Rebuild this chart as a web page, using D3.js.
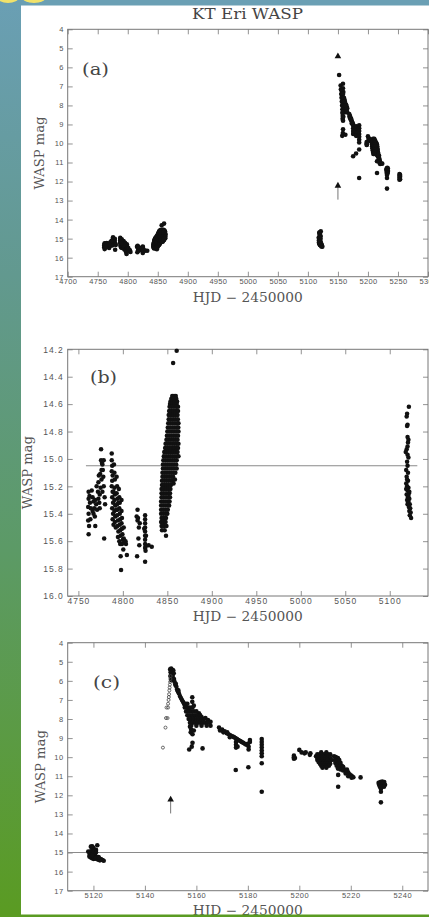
<!DOCTYPE html>
<html><head><meta charset="utf-8">
<script src="https://cdn.jsdelivr.net/npm/d3@7"></script>
<style>html,body{margin:0;padding:0;background:#fff;}svg{display:block}</style>
</head><body>
<svg id="chart" width="429" height="917"></svg>
<script>
// ---------------- DATA (HJD - 2450000, WASP mag) ----------------
const quietCluster1 = [[4761.5,15.24],[4761.5,15.29],[4761,15.35],[4761.5,15.40],[4761,15.45],[4762,15.49],[4761.5,15.55],[4762.5,15.27],[4763,15.32],
 [4765,15.23],[4766,15.28],[4767,15.31],[4768,15.36],[4768.5,15.42],[4769,15.49],[4767,15.40],[4766,15.38],
 [4770.5,15.20],[4772,15.24],[4772.5,15.29],[4773.5,15.32],[4772.5,15.17],[4771,15.37],[4770,15.33],[4774,15.26],
 [4774.5,15.11],[4775.5,14.93],[4775.5,15.01],[4776.5,15.03],[4776,15.08],[4777.5,15.08],[4778,15.13],[4778.5,15.20],[4779.5,15.28],
 [4779,15.58],[4777,15.04],[4778.5,15.01],[4776,15.15],[4775,15.21],[4777,15.24],[4780,15.33],[4773,15.12],[4774,15.36],[4769,15.30],[4764,15.36],[4763.5,15.44]];
const quietCluster2 = [[4787.5,14.96],[4787.5,15.01],[4788,15.05],[4787.5,15.09],[4788.5,15.12],[4788,15.16],[4787.5,15.20],[4788.5,15.24],[4788,15.28],[4789,15.32],[4788,15.36],[4789,15.40],[4788.5,15.44],[4789.5,15.48],
 [4790,15.04],[4790.5,15.10],[4791,15.15],[4790.5,15.21],[4791,15.26],[4790.5,15.30],[4791.5,15.34],[4790.5,15.38],[4791.5,15.42],[4791,15.46],[4792,15.50],
 [4793,15.13],[4793.5,15.20],[4793,15.25],[4794,15.29],[4793.5,15.33],[4794,15.37],[4793.5,15.41],[4794.5,15.45],[4794,15.49],[4795,15.53],[4794.5,15.57],
 [4795.5,15.22],[4796,15.28],[4796.5,15.32],[4796,15.36],[4796.5,15.40],[4797,15.44],[4796.5,15.48],[4797,15.52],[4797.5,15.56],[4796,15.60],[4797,15.62],
 [4798.5,15.30],[4798.5,15.38],[4799,15.43],[4798.5,15.47],[4799,15.51],[4799.5,15.55],[4800,15.59],[4799,15.62],
 [4801,15.58],[4802,15.60],[4803.5,15.62],[4801,15.50],[4797.5,15.71],[4798,15.81],[4804.5,15.70],[4803,15.60],[4800.5,15.66],[4795,15.32],[4792.5,15.37],[4789.5,15.24]];
const quietCluster3 = [[4815.5,15.42],[4816.5,15.37],[4816.5,15.45],[4817,15.43],[4818,15.50],[4817.5,15.58],[4816,15.71],[4818.5,15.63],[4819,15.47],
 [4825,15.41],[4825,15.44],[4825,15.47],[4825,15.50],[4825,15.53],[4825,15.56],[4825,15.59],[4825,15.62],[4825,15.65],[4825.5,15.67],[4825,15.75],
 [4824,15.51],[4826,15.56],[4825.5,15.64],[4829,15.63],[4832.5,15.64]];
// dense rise before the eruption: [mag, [HJD values]]
const quietBandRows = [
 [14.54,[4855.5,4857.5,4859.5]],[14.56,[4854.5,4857,4860]],[14.58,[4853.5,4856,4858.5,4861]],[14.60,[4853,4855.5,4858,4860.5]],
 [14.62,[4852.5,4855,4857.5,4860,4862]],[14.65,[4852,4854.5,4857,4859.5,4862]],[14.68,[4851.5,4854,4856.5,4859,4861.5]],
 [14.71,[4851.5,4854,4856.5,4859,4861.8]],[14.74,[4851,4853.5,4856,4858.5,4861,4862.5]],[14.77,[4850.5,4853,4855.5,4858,4860.5,4862.3]],
 [14.80,[4850,4852.5,4855,4857.5,4860,4862.5]],[14.83,[4849.5,4852,4854.5,4857,4859.5,4862]],[14.86,[4849,4851.5,4854,4856.5,4859,4861.5]],
 [14.89,[4848,4850.5,4853,4855.5,4858,4860.5,4862.5]],[14.92,[4847.5,4850,4852.5,4855,4857.5,4860,4862]],
 [14.95,[4846.5,4849,4851.5,4854,4856.5,4859,4861.5]],[14.98,[4846,4848.5,4851,4853.5,4856,4858.5,4861,4862.5]],
 [15.01,[4845.5,4848,4850.5,4853,4855.5,4858,4860.5]],[15.04,[4845,4847.5,4850,4852.5,4855,4857.5,4860]],
 [15.07,[4845,4847.5,4850,4852.5,4855,4857.5,4860.5]],[15.10,[4844.5,4847,4849.5,4852,4854.5,4857,4859]],
 [15.13,[4844.5,4847,4849.5,4852,4854.5,4856.5]],[15.16,[4844,4846.5,4849,4851.5,4854,4856]],[15.19,[4844,4846.5,4849,4851.5,4854]],
 [15.22,[4843.5,4846,4848.5,4851,4853.5]],[15.25,[4843.5,4846,4848.5,4851,4853]],[15.28,[4843.5,4846,4848.5,4851,4853]],
 [15.31,[4843,4845.5,4848,4850.5,4852.5]],[15.34,[4843,4845.5,4848,4850.5,4852]],[15.37,[4843,4845.5,4848,4850.5]],
 [15.40,[4843,4845.5,4848,4850]],[15.43,[4843.5,4846,4848.5]],[15.46,[4843,4845.5,4848]],[15.49,[4843.5,4846,4849]],
 [15.52,[4844,4847]],[15.56,[4848.5]]];
const quietOutliers = [[4856.5,14.30],[4860.5,14.21],[4858.5,15.15],[4857,15.18]];
const preEruption = [[5121.5,14.62],[5119.5,14.67],[5119,14.69],[5120,14.75],[5119.5,14.76],[5120,14.84],[5121,14.86],[5120.5,14.88],[5120,14.91],
 [5119,14.93],[5118,14.95],[5120,14.97],[5121,14.99],[5119.5,15.02],[5120,15.05],[5118.5,15.08],[5120.5,15.10],[5119,15.13],[5120.5,15.16],
 [5118.5,15.18],[5119.5,15.20],[5121,15.21],[5120,15.23],[5121.5,15.25],[5119,15.26],[5120.5,15.28],[5122,15.29],[5119.5,15.30],[5121,15.31],
 [5122.5,15.33],[5120,15.33],[5121.5,15.35],[5123,15.36],[5122,15.38],[5120.5,15.32],[5123.5,15.39],[5122.5,15.41],[5124,15.43],
 [5121,15.27],[5122,15.24],[5118.5,15.22],[5119.5,15.15]];
// eruption peak, resolved in panel (c)
const burstPeak = [[5149.8,5.40],[5150.2,5.35],[5150.6,5.42],[5151,5.45],[5150,5.55],[5150.5,5.6],[5151.2,5.6],[5149.9,5.75],[5150.4,5.8],
 [5150.8,5.75],[5150.2,5.95],[5150.7,5.95],[5151.3,5.9],
 [5151.5,6.05],[5151.8,6.2],[5152.2,6.3],[5152.5,6.45],[5152.8,6.55],[5153.2,6.65],[5153.6,6.8],[5154,6.9],[5154.4,7.0],[5154.8,7.1],
 [5155.2,7.2],[5155.6,7.3],[5152,6.15],[5153,6.5]];
// the same peak as it appears in panel (a)
const burstPeakA = [[5152,6.4],[5154.5,6.95],[5155,7.15]];
const burstEarly = [[5158.4,6.86],[5158.4,7.1],[5159,7.3],[5157,7.5],[5161,7.7],[5162,7.9],[5163.5,7.95],[5164.5,8.05],[5165.5,8.15],
 [5157.5,8.4],[5158,8.55],[5157.8,8.7],[5158.5,8.8],[5159,8.6],[5157.2,9.6],[5158.5,9.25],[5158.2,9.45],[5162.4,9.54]];
const burstEarlyRows = [
 [7.2,[5155.8,5156.5]],[7.4,[5155.5,5156.5,5157.5,5158.5]],[7.6,[5156,5157,5158,5159,5160]],
 [7.8,[5156.5,5157.5,5158.5,5159.5,5160.5,5161.5]],[8.0,[5157,5158,5159,5160,5161,5162,5163]],
 [8.2,[5157.5,5158.5,5159.5,5160.5,5161.5,5162.5,5163.5,5164.5]],[8.35,[5158,5160,5162,5164,5165.5]]];
const burstMid = [[5168.8,8.45],[5169.2,8.6],[5170,8.55],[5170.5,8.7],[5171,8.65],[5171.8,8.75],[5172.5,8.8],[5173.2,8.85],[5174,8.9],
 [5174.6,8.95],[5175.2,9.0],[5175.8,9.05],[5176.4,9.1],[5177,9.15],[5177.6,9.2],[5178.2,9.25],[5178.8,9.3],[5179.4,9.35],[5180,9.3],
 [5175.4,9.2],[5175.4,9.35],[5175.4,9.5],[5176,9.45],[5180.3,9.45],[5180.3,9.6],[5180.8,9.2],[5180.8,9.1],[5175.3,10.67],[5180.2,10.53],
 [5172,8.7],[5173,8.95],
 [5185.4,9.05],[5185.4,9.2],[5185.4,9.35],[5185.4,9.5],[5185.4,9.65],[5185.4,9.8],[5185.4,9.95],[5185.4,10.32],[5185.4,11.81]];
const burstLate = [[5197.9,9.92],[5197.9,10.0],[5197.9,10.08],[5198.3,10.05],[5200,9.62],[5200.9,9.75],[5202,9.8],[5202.5,9.75],[5204.1,9.88],[5204.3,9.8],
 [5213.5,9.95],[5214.2,10.0],[5215,10.05],[5213.8,10.15],[5214.6,10.2],[5215.4,10.25],[5214,10.3],[5215,10.35],[5215.8,10.4],[5216.5,10.45],
 [5214.5,10.45],[5215.5,10.5],[5216.5,10.55],[5217.2,10.6],[5215,10.6],[5216,10.65],[5217,10.7],[5218,10.75],[5218.5,10.65],[5219,10.8],
 [5218,10.85],[5219.5,10.9],[5220,10.95],[5220.5,11.0],[5221,11.05],[5219,11.0],[5220.3,11.08],[5215.5,10.15],[5216,10.3],[5217,10.5],
 [5215.1,10.93],[5215.1,11.55],[5223.8,11.06],
 [5230.8,11.35],[5231.5,11.3],[5232.2,11.28],[5233,11.3],[5231,11.45],[5231.8,11.42],[5232.6,11.4],[5233.3,11.45],[5231.3,11.55],
 [5232.1,11.55],[5232.9,11.55],[5231.7,11.65],[5231.7,11.81],[5231.7,12.37],
 [5252.5,11.6],[5252.5,11.7],[5252.5,11.8],[5253.5,11.65],[5253.5,11.75],[5253.5,11.88],[5252.5,11.9]];
const burstLateRows = [
 [9.75,[5208.5,5210.5]],[9.85,[5207,5208,5209,5210,5211,5212]],[9.95,[5206.5,5207.5,5208.5,5209.5,5210.5,5211.5]],
 [10.05,[5207,5208,5209,5210,5211,5212]],[10.15,[5207,5208,5209,5210,5211,5212.5]],[10.25,[5207.5,5208.5,5209.5,5210.5,5211.5]],
 [10.35,[5208,5209,5210,5211,5212]],[10.45,[5208.5,5209.5,5210.5,5211.5]],[10.55,[5209,5210.5]]];
const openPoints = [[5147.0,9.5],[5148.0,8.45],[5148.2,7.95],[5148.8,7.95],[5148.4,7.4],[5149.0,7.4],[5149.0,7.2],[5149.2,7.0],
 [5149.3,6.85],[5149.4,6.7],[5149.5,6.5],[5149.6,6.35],[5149.7,6.2],[5149.8,6.05],[5149.9,5.9],[5150.0,5.75]];
const peakMarker = [[5150,5.4]];
const arrowMarker = [[5150,12.2,12.95]];
const meanLineB = [[4758.5,15.05],[5131,15.05]];
const meanLineC = [[5110,15.0],[5250,15.0]];

const xTicksA = [4700,4750,4800,4850,4900,4950,5000,5050,5100,5150,5200,5250,5300];
const yTicksA = [4,5,6,7,8,9,10,11,12,13,14,15,16,17];
const xTicksB = [4750,4800,4850,4900,4950,5000,5050,5100];
const yTicksB = [14.2,14.4,14.6,14.8,15.0,15.2,15.4,15.6,15.8,16.0];
const xTicksC = [5120,5140,5160,5180,5200,5220,5240];
const yTicksC = yTicksA;

const rowsToPoints = rows => rows.flatMap(([m, hs]) => hs.map(h => [h, m]));
const quietAll = [...quietCluster1, ...quietCluster2, ...quietCluster3, ...rowsToPoints(quietBandRows), ...quietOutliers];
const burstRest = [...burstEarly, ...rowsToPoints(burstEarlyRows), ...burstMid, ...burstLate, ...rowsToPoints(burstLateRows)];

// ---------------- DRAWING ----------------
const svg = d3.select("#chart");
const W = 429, H = 917;
const defs = svg.append("defs");
const grad = defs.append("linearGradient").attr("id","side").attr("x1",0).attr("y1",0).attr("x2",0).attr("y2",1);
[[0,"#6a9fb4"],[0.3,"#62998f"],[0.6,"#5c9a66"],[1,"#5a9b22"]].forEach(([o,c]) => grad.append("stop").attr("offset",o).attr("stop-color",c));

svg.append("rect").attr("width",W).attr("height",H).attr("fill","#fff");
svg.append("rect").attr("x",0).attr("y",0).attr("width",W).attr("height",5.5).attr("fill","#6a9fb4");
svg.append("rect").attr("x",0).attr("y",0).attr("width",21).attr("height",H).attr("fill","url(#side)");
svg.append("ellipse").attr("cx",8).attr("cy",-3).attr("rx",11).attr("ry",6).attr("fill","#f1e26a");
svg.append("ellipse").attr("cx",34).attr("cy",-3).attr("rx",12).attr("ry",6).attr("fill","#f1e26a");

const tickFont = "'Liberation Sans', Arial, sans-serif";
const serif = "'DejaVu Serif', 'Liberation Serif', serif";
const grey = "#555";

svg.append("text").attr("x",247.5).attr("y",19).attr("text-anchor","middle")
  .attr("font-family",serif).attr("font-size",14.5).attr("fill","#444")
  .attr("textLength",111).attr("lengthAdjust","spacingAndGlyphs").text("KT Eri WASP");

function panel(cfg){
  const x = d3.scaleLinear().domain(cfg.xd).range([cfg.left, cfg.right]);
  const y = d3.scaleLinear().domain(cfg.yd).range([cfg.top, cfg.bottom]);
  const g = svg.append("g");
  const clipId = "clip"+cfg.id;
  defs.append("clipPath").attr("id",clipId).append("rect")
    .attr("x",cfg.left).attr("y",cfg.top-1).attr("width",cfg.right-cfg.left).attr("height",cfg.bottom-cfg.top+1);

  const styleAxis = (sel, labels) => {
    sel.select(".domain").remove();
    sel.selectAll(".tick line").attr("stroke","#777").attr("stroke-width",0.8);
    sel.selectAll(".tick text").attr("fill",grey).attr("font-family",tickFont).attr("font-size",cfg.fs)
      .attr("letter-spacing",cfg.ls);
    if(!labels) sel.selectAll(".tick text").remove();
  };
  g.append("g").attr("transform",`translate(0,${cfg.bottom})`)
    .call(d3.axisBottom(x).tickValues(cfg.xt).tickSize(-5).tickPadding(cfg.xpad).tickFormat(d3.format("d")))
    .call(s=>styleAxis(s,true));
  g.append("g").attr("transform",`translate(0,${cfg.top})`)
    .call(d3.axisTop(x).tickValues(cfg.xt).tickSize(-5)).call(s=>styleAxis(s,false));
  g.append("g").attr("transform",`translate(${cfg.left},0)`)
    .call(d3.axisLeft(y).tickValues(cfg.yt).tickSize(-5).tickPadding(4).tickFormat(cfg.yfmt))
    .call(s=>styleAxis(s,true));
  g.append("g").attr("transform",`translate(${cfg.right},0)`)
    .call(d3.axisRight(y).tickValues(cfg.yt).tickSize(-5)).call(s=>styleAxis(s,false));
  g.append("rect").attr("x",cfg.left).attr("y",cfg.top).attr("width",cfg.right-cfg.left).attr("height",cfg.bottom-cfg.top)
    .attr("fill","none").attr("stroke","#777").attr("stroke-width",1);

  const plot = g.append("g").attr("clip-path",`url(#${clipId})`);
  if(cfg.line){
    plot.append("path").attr("d", d3.line().x(d=>x(d[0])).y(d=>y(d[1]))(cfg.line))
      .attr("stroke","#8a8a8a").attr("stroke-width",1.1).attr("fill","none");
  }
  plot.selectAll("circle.pt").data(cfg.points).join("circle").attr("class","pt")
    .attr("cx",d=>x(d[0])).attr("cy",d=>y(d[1])).attr("r",cfg.r).attr("fill","#111");
  if(cfg.open){
    plot.selectAll("circle.op").data(cfg.open).join("circle").attr("class","op")
      .attr("cx",d=>x(d[0])).attr("cy",d=>y(d[1])).attr("r",1.5).attr("fill","none").attr("stroke","#444").attr("stroke-width",0.8);
  }
  const tri = (cx, cy) => `M${cx},${cy-3.5}L${cx+3.3},${cy+2.3}L${cx-3.3},${cy+2.3}Z`;
  (cfg.peak||[]).forEach(d => plot.append("path").attr("d",tri(x(d[0]),y(d[1]))).attr("fill","#111"));
  (cfg.arrow||[]).forEach(d => {
    plot.append("line").attr("x1",x(d[0])).attr("x2",x(d[0])).attr("y1",y(d[1])+2).attr("y2",y(d[2]))
      .attr("stroke","#777").attr("stroke-width",1);
    plot.append("path").attr("d",tri(x(d[0]),y(d[1]))).attr("fill","#111");
  });

  svg.append("text").attr("x",cfg.tagX).attr("y",cfg.tagY).attr("font-family",serif).attr("font-size",17)
    .attr("fill","#444").attr("textLength",27).attr("lengthAdjust","spacingAndGlyphs").text(cfg.tag);
  svg.append("text").attr("transform",`translate(${cfg.ylabX},${(cfg.top+cfg.bottom)/2}) rotate(-90)`)
    .attr("text-anchor","middle").attr("font-family",serif).attr("font-size",12.5).attr("fill",grey)
    .attr("textLength",73).attr("lengthAdjust","spacingAndGlyphs").text("WASP mag");
  svg.append("text").attr("x",(cfg.left+cfg.right)/2).attr("y",cfg.xlabY).attr("text-anchor","middle")
    .attr("font-family",serif).attr("font-size",12.5).attr("fill",grey)
    .attr("textLength",110).attr("lengthAdjust","spacingAndGlyphs").text("HJD \u2212 2450000");
}

panel({id:"a", left:67.7, right:428, top:29.3, bottom:276.7, xd:[4700,5300], yd:[4,17],
  xt:xTicksA, yt:yTicksA, yfmt:d3.format("d"), fs:7.5, ls:0.3, xpad:1.5, r:2.3,
  points:[...quietAll, ...preEruption, ...burstPeakA, ...burstRest], peak:peakMarker, arrow:arrowMarker,
  tag:"(a)", tagX:82, tagY:75, ylabX:44, xlabY:302});
panel({id:"b", left:67.7, right:428, top:349.3, bottom:596, xd:[4738,5143], yd:[14.2,16.0],
  xt:xTicksB, yt:yTicksB, yfmt:d3.format(".1f"), fs:8.5, ls:1, xpad:1.5, r:2.25,
  points:[...quietAll, ...preEruption], line:meanLineB,
  tag:"(b)", tagX:90, tagY:383, ylabX:32, xlabY:621});
panel({id:"c", left:67.7, right:428, top:642.7, bottom:890.7, xd:[5110,5250], yd:[4,17],
  xt:xTicksC, yt:yTicksC, yfmt:d3.format("d"), fs:7.5, ls:0.5, xpad:2, r:2.3,
  points:[...preEruption, ...burstPeak, ...burstRest].filter(d=>d[0]<=5250), open:openPoints, arrow:arrowMarker, line:meanLineC,
  tag:"(c)", tagX:93, tagY:688, ylabX:45, xlabY:915});

svg.append("rect").attr("x",0).attr("y",914.5).attr("width",W).attr("height",2.5).attr("fill","#5a9b22");
</script>
</body></html>
